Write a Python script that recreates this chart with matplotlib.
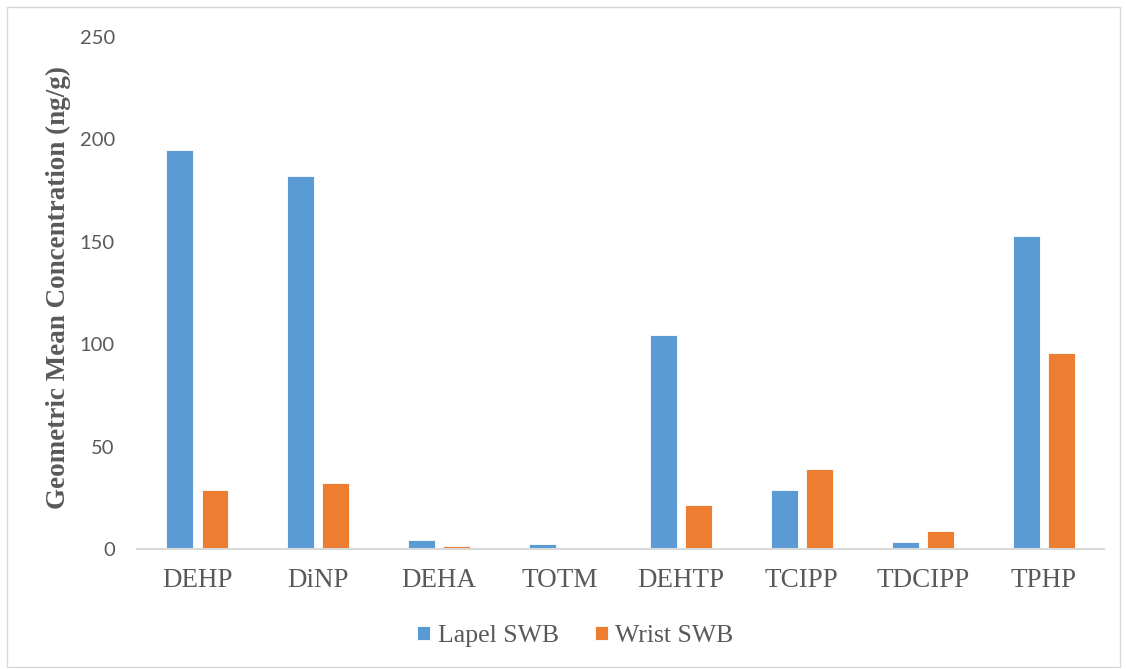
import numpy as np
import matplotlib.pyplot as plt
from matplotlib.patches import Rectangle

# values
compounds = ['DEHP', 'DiNP', 'DEHA', 'TOTM', 'DEHTP', 'TCIPP', 'TDCIPP', 'TPHP']
lapel_swb = [195, 182, 4.4, 2.4, 104.3, 28.7, 3.4, 153]
wrist_swb = [28.8, 32.1, 1.5, 0.5, 21.5, 39.1, 8.8, 95.6]
y_ticks = [0, 50, 100, 150, 200, 250]

text_grey = '#595959'
blue = '#5B9BD5'
orange = '#ED7D31'

fig = plt.figure(figsize=(11.26, 6.69), dpi=100)
ax = fig.add_axes([0.1217, 0.1794, 0.9805 - 0.1217, 0.9447 - 0.1794])

# light frame round the whole chart
fig.patches.append(Rectangle((0.006, 0.003), 0.989, 0.986, transform=fig.transFigure,
                             fill=False, edgecolor='#D9D9D9', linewidth=1))

x = np.arange(len(compounds))
w = 0.223
ax.bar(x - 0.145, lapel_swb, width=w, color=blue, edgecolor='white', linewidth=0.6,
       label='Lapel SWB')
ax.bar(x + 0.145, wrist_swb, width=w, color=orange, edgecolor='white', linewidth=0.6,
       label='Wrist SWB')

ax.set_xlim(-0.5, len(compounds) - 0.5)
ax.set_ylim(0, 250)
ax.set_yticks(y_ticks)
ax.set_yticklabels([str(v) for v in y_ticks], family='Lato', fontsize=14.5, color=text_grey)
ax.set_xticks(x)
ax.set_xticklabels(compounds, family='Liberation Serif', fontsize=19.5, color=text_grey)
ax.tick_params(axis='y', length=0, pad=16)
ax.tick_params(axis='x', length=0, pad=14)

for s in ['top', 'right', 'left']:
    ax.spines[s].set_visible(False)
ax.spines['bottom'].set_color('#D9D9D9')
ax.spines['bottom'].set_linewidth(1.5)

ax.set_ylabel('Geometric Mean Concentration (ng/g)', family='Liberation Serif',
              fontweight='bold', fontsize=19.5, color=text_grey)
ax.yaxis.set_label_coords(-0.068, 0.51)

leg = fig.legend(loc='center', bbox_to_anchor=(0.511, 0.049), ncol=2, frameon=False,
                 prop={'family': 'Liberation Serif', 'size': 18.5},
                 handlelength=0.5, handleheight=0.5, handletextpad=0.3, columnspacing=1.4)
for t in leg.get_texts():
    t.set_color(text_grey)

fig.savefig('out.png', dpi=100)
